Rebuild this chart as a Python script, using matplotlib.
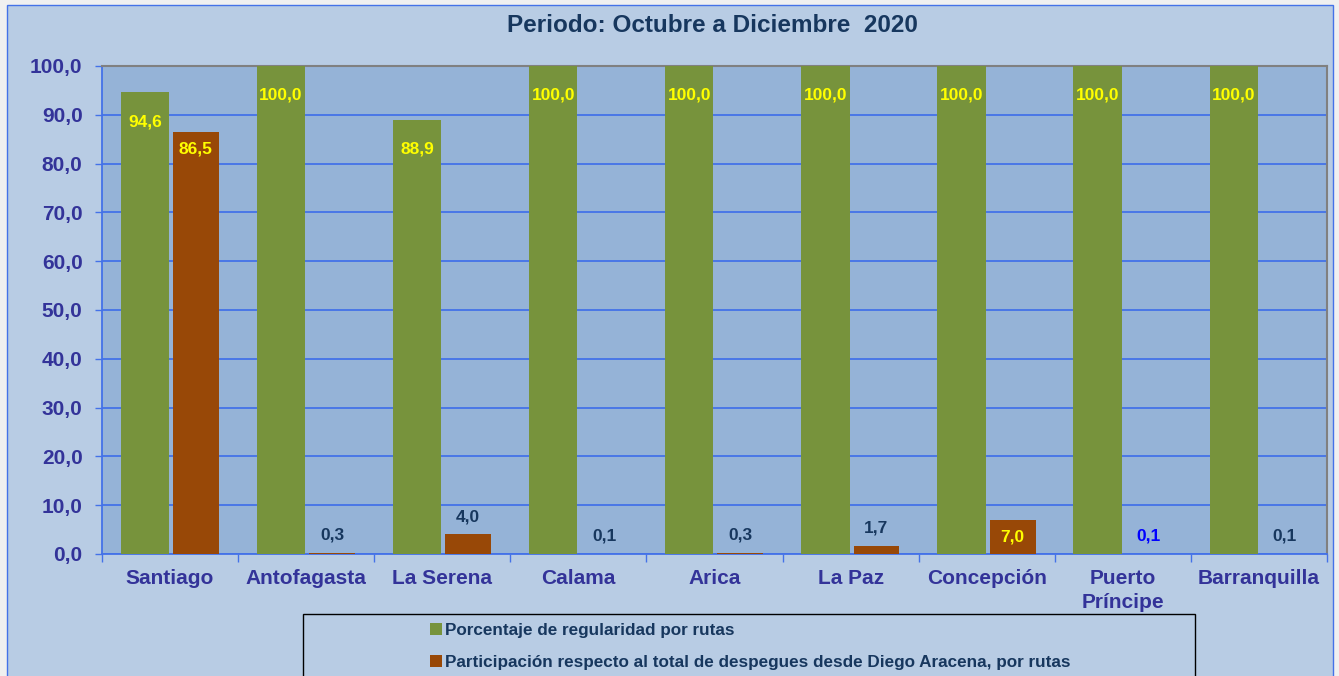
import matplotlib
matplotlib.use("Agg")
import matplotlib.pyplot as plt
from matplotlib.patches import Rectangle, Patch
import numpy as np

plt.rcParams['font.family'] = ['Liberation Sans', 'DejaVu Sans']
plt.rcParams['font.weight'] = 'bold'

title = "Periodo: Octubre a Diciembre  2020"
categories = ["Santiago", "Antofagasta", "La Serena", "Calama", "Arica",
              "La Paz", "Concepción", "Puerto\nPríncipe", "Barranquilla"]
regularidad = [94.6, 100.0, 88.9, 100.0, 100.0, 100.0, 100.0, 100.0, 100.0]
participacion = [86.5, 0.3, 4.0, 0.1, 0.3, 1.7, 7.0, 0.1, 0.1]
series_names = ["Porcentaje de regularidad por rutas",
                "Participación respecto al total de despegues desde Diego Aracena, por rutas"]
yticks = [0, 10, 20, 30, 40, 50, 60, 70, 80, 90, 100]

W, H = 1339, 676
fig = plt.figure(figsize=(W / 100, H / 100), dpi=100)
fig.patch.set_facecolor('#f0f0f0')
bg = Rectangle((7 / W, -0.01), (1333 - 7) / W, 1 - 5 / H + 0.01,
               transform=fig.transFigure, facecolor='#b8cce4',
               edgecolor='#4472e8', linewidth=1.0, zorder=-10)
fig.patches.append(bg)

ax = fig.add_axes([102 / W, 1 - 554 / H, (1327 - 102) / W, (554 - 66) / H])
ax.set_zorder(1)
ax.set_facecolor('#95b3d7')

green = '#77933c'
brown = '#984807'
x = np.arange(len(categories))
bw = 0.355
b1 = ax.bar(x - 0.185, regularidad, width=bw, color=green, zorder=3)
b2 = ax.bar(x + 0.19, participacion, width=bw * 0.95, color=brown, zorder=3)

ax.set_xlim(-0.5, len(categories) - 0.5)
ax.set_ylim(0, 100)
ax.set_yticks(yticks)
ax.set_yticklabels([f"{v:.1f}".replace('.', ',') for v in yticks],
                   fontsize=15, fontweight='bold', color='#333399')
ax.yaxis.grid(True, color='#4472e8', linewidth=1.3, zorder=1)
ax.set_axisbelow(True)

ax.set_xticks(x)
ax.set_xticklabels(categories, fontsize=15, fontweight='bold', color='#333399',
                   linespacing=1.3)
ax.set_xticks(np.arange(-0.5, len(categories)), minor=True)
ax.tick_params(axis='x', which='major', length=0, pad=11)
ax.tick_params(axis='x', which='minor', length=6, color='#4472e8', width=1)
ax.tick_params(axis='y', length=5, color='#4472e8', width=1, pad=9)

for s in ['left', 'bottom']:
    ax.spines[s].set_color('#4472e8')
    ax.spines[s].set_linewidth(1.3)
for s in ['top', 'right']:
    ax.spines[s].set_color('#808080')
    ax.spines[s].set_linewidth(1.5)

# data labels
for rect, v in zip(b1, regularidad):
    ax.text(rect.get_x() + rect.get_width() / 2, v - 6.0, f"{v:.1f}".replace('.', ','),
            ha='center', va='center', fontsize=12.5, fontweight='bold',
            color='#ffff00', zorder=5)
for i, (rect, v) in enumerate(zip(b2, participacion)):
    lab = f"{v:.1f}".replace('.', ',')
    cx = rect.get_x() + rect.get_width() / 2
    if v > 5:
        ax.text(cx, v - 3.5, lab, ha='center', va='center', fontsize=12.5,
                fontweight='bold', color='#ffff00', zorder=5)
    else:
        col = '#0000ff' if i == 7 else '#17375e'
        ax.annotate(lab, (cx, v), xytext=(0, 7), textcoords='offset points',
                    ha='center', va='bottom', fontsize=12.5, fontweight='bold',
                    color=col, zorder=5)

fig.text(712 / W, 1 - 25 / H, title, ha='center', va='center', fontsize=17.5,
         fontweight='bold', color='#17375e')

# legend
fig.patches.append(Rectangle((303 / W, -0.02), (1195 - 303) / W, (676 - 614) / H + 0.02,
                             transform=fig.transFigure, facecolor='none',
                             edgecolor='#000000', linewidth=1.0, zorder=2))
handles = [Patch(facecolor=green, edgecolor='none'), Patch(facecolor=brown, edgecolor='none')]
leg = fig.legend(handles, series_names, loc='upper left',
                 bbox_to_anchor=(430 / W, 1 - 623 / H), frameon=False,
                 fontsize=12.3, handlelength=0.7, handleheight=0.7,
                 handletextpad=0.2, labelspacing=1.0, borderpad=0, borderaxespad=0)
for t in leg.get_texts():
    t.set_color('#17375e')
    t.set_fontweight('bold')

fig.savefig('out.png', dpi=100, facecolor=fig.get_facecolor())
